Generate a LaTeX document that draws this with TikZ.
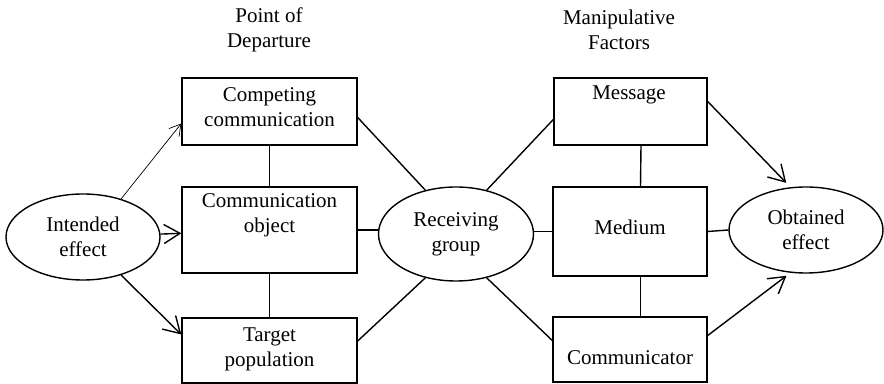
\documentclass[tikz,border=0pt]{standalone}
\usepackage{fontspec}
\setmainfont{Liberation Serif}
\usetikzlibrary{arrows.meta,shapes.geometric}
\begin{document}
\begin{tikzpicture}[x=0.5pt,y=-0.5pt,
    font=\fontsize{10.5}{12.5}\selectfont,
    box/.style={draw,line width=0.7pt,inner sep=0pt},
    oval/.style={draw,ellipse,line width=0.7pt,inner sep=0pt,align=center,
      minimum width=77pt,minimum height=43pt},
    txt/.style={align=center,inner sep=0pt},
    link/.style={line width=0.7pt},
    arr/.style={line width=0.7pt,-{Straight Barb[length=8pt,width=9.5pt]}},
    thinarr/.style={line width=0.35pt,-{Straight Barb[length=5.5pt,width=6.5pt]}}]
  \useasboundingbox (0,0) rectangle (884,384);

  \node[txt] (head1) at (269,30) {Point of\\Departure};
  \node[txt] (head2) at (619,30) {Manipulative\\Factors};

  \node[box,minimum width=87.5pt,minimum height=33.5pt] (comp) at (269.5,111.5) {};
  \node[box,minimum width=87.5pt,minimum height=43pt] (obj) at (269.5,230) {};
  \node[box,minimum width=87.5pt,minimum height=32.5pt] (target) at (269.5,350.5) {};
  \node[txt] (comp-t) at (269.5,107) {Competing\\communication};
  \node[txt] (obj-t) at (269.5,215) {Communication\\object};
  \node[txt] (target-t) at (269.5,349) {Target\\population};

  \node[box,minimum width=76.5pt,minimum height=33.5pt] (msg) at (630.5,111.5) {};
  \node[box,minimum width=77pt,minimum height=44.5pt] (med) at (630,231.5) {};
  \node[box,minimum width=77pt,minimum height=32.5pt] (comm) at (630,349.5) {};
  \node[txt] (msg-t) at (629,95) {Message};
  \node[txt] (med-t) at (630,227) {Medium};
  \node[txt] (comm-t) at (630,358) {Communicator};

  \node[oval] (intended) at (83,237) {Intended\\effect};
  \node[oval,minimum width=77.5pt,minimum height=47pt] (recv) at (456,234) {Receiving\\group};
  \node[oval] (obt) at (806,230) {Obtained\\effect};

  \draw[thinarr] (intended.45) -- ([yshift=-6pt]comp.west);
  \draw[arr] (intended) -- (obj);
  \draw[arr] (intended.-45) -- ([yshift=8pt]target.west);
  \draw[link] (comp) -- (obj);
  \draw[link] (obj) -- (target);
  \draw[link] (obj.east) -- (obj.east -| recv.west);
  \draw[link] ([yshift=-3pt]comp.east) -- (recv.125);
  \draw[link] ([yshift=4.75pt]target.east) -- (recv.235);
  \draw[link] (recv.55) -- ([yshift=-4pt]msg.west);
  \draw[link] (recv.305) -- ([yshift=4.5pt]comm.west);
  \draw[link] (med.west -| recv.east) -- (med.west);
  \draw[link] ([xshift=5.25pt]msg.south) -- ([xshift=5.25pt]med.north);
  \draw[link] ([xshift=5.25pt]med.south) -- ([xshift=5.25pt]comm.north);
  \draw[link] (med.east) -- (obt.west);
  \draw[arr,shorten >=3pt] ([yshift=5pt]msg.east) -- (obt.110);
  \draw[arr,shorten >=2.5pt] ([yshift=7pt]comm.east) -- (obt.250);
\end{tikzpicture}
\end{document}
